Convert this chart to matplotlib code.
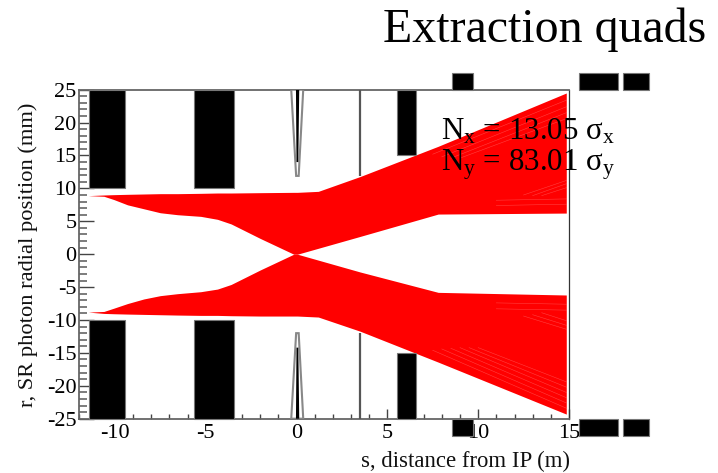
import matplotlib
matplotlib.use("Agg")
import matplotlib.pyplot as plt
from matplotlib.patches import Rectangle, Polygon
from matplotlib.ticker import MultipleLocator

plt.rcParams['font.family'] = ['Liberation Serif', 'DejaVu Serif']
plt.rcParams['mathtext.fontset'] = 'custom'
plt.rcParams['mathtext.rm'] = 'Liberation Serif'
plt.rcParams['mathtext.it'] = 'Liberation Serif'
plt.rcParams['mathtext.bf'] = 'Liberation Serif'
plt.rcParams['axes.unicode_minus'] = False

# Red photon fan envelopes (s in m, r in mm)
upper_s = [-11.46, -10.6, -10.05, -9.3, -8.4, -7.5, -6.55, -5.27, -4.35, -3.6, -2.0, -0.15, 0.05, 1.2, 3.5, 7.8, 14.85]
upper_hi = [8.9, 9.0, 9.05, 9.1, 9.15, 9.2, 9.2, 9.25, 9.3, 9.3, 9.35, 9.4, 9.4, 9.55, 11.8, 16.4, 24.5]
upper_lo = [8.9, 8.8, 8.3, 7.5, 6.9, 6.3, 6.0, 5.75, 5.3, 4.6, 2.4, 0.0, 0.0, 0.9, 2.7, 6.1, 6.25]
lower_s = upper_s
lower_hi = [-8.8, -8.7, -8.2, -7.5, -6.8, -6.3, -6.0, -5.7, -5.3, -4.6, -2.4, 0.0, 0.0, -0.9, -2.7, -5.8, -6.2]
lower_lo = [-8.8, -9.0, -9.05, -9.1, -9.15, -9.2, -9.25, -9.3, -9.3, -9.35, -9.4, -9.4, -9.4, -9.55, -11.7, -16.4, -24.3]

# Thin gaps between neighbouring rays, (s0, r0, s1, r1)
gaps = [
    (7.5, 15.2, 14.85, 23.4), (8.0, 14.8, 14.85, 22.4), (8.5, 14.6, 14.85, 21.5), (9.0, 14.6, 14.85, 20.6),
    (12.5, 9.0, 14.85, 11.2), (13.0, 8.9, 14.85, 10.7), (13.5, 8.9, 14.85, 10.1),
    (11.0, 7.4, 14.85, 7.6), (11.0, 8.2, 14.85, 8.4),
    (7.5, -14.6, 14.85, -23.4), (8.0, -14.4, 14.85, -22.6), (8.5, -14.3, 14.85, -21.8),
    (9.0, -14.2, 14.85, -21.0), (9.5, -14.2, 14.85, -20.2), (10.0, -14.2, 14.85, -19.4),
    (12.5, -9.4, 14.85, -11.4), (13.0, -9.2, 14.85, -10.8), (13.5, -8.9, 14.85, -10.1),
    (11.0, -7.4, 14.85, -7.6), (11.0, -8.3, 14.85, -8.5),
]

# Black apertures: (s start, s end, r start, r end)
magnets = [
    (-11.43, -9.45, 10, 25), (-5.66, -3.46, 10, 25), (5.55, 6.6, 15, 25),
    (-11.43, -9.45, -25, -10), (-5.66, -3.46, -25, -10), (5.55, 6.6, -25, -15),
    (8.57, 9.73, 25, 27.6), (15.55, 17.7, 25, 27.6), (17.97, 19.4, 25, 27.6),
    (8.57, 9.73, -27.6, -25), (15.55, 17.7, -27.6, -25), (17.97, 19.4, -27.6, -25),
]
septum_s = 3.5
septum_r = [(11.9, 25), (-25, -12)]
cone_s = [-0.29, -0.02, 0.12, 0.37]
cone_r_top = [25, 11.9, 11.9, 25]
cone_r_bottom = [-25, -12, -12, -25]
core_s = [-0.03, 0.0, 0.1, 0.15]
core_r_top = [25, 14.0, 14.0, 25]
core_r_bottom = [-25, -14.2, -14.2, -25]

xticks = [-10, -5, 0, 5, 10, 15]
yticks = [-25, -20, -15, -10, -5, 0, 5, 10, 15, 20, 25]

fig = plt.figure(figsize=(7.18, 4.73), dpi=100)
ax = fig.add_axes([78.5 / 718, 1 - 418.7 / 473, (569 - 78.5) / 718, (418.7 - 89.7) / 473])
ax.set_xlim(-12, 15)
ax.set_ylim(-25, 25)

ax.fill_between(upper_s, upper_lo, upper_hi, color='#ff0000', lw=0, zorder=2)
ax.fill_between(lower_s, lower_lo, lower_hi, color='#ff0000', lw=0, zorder=2)
for s0, r0, s1, r1 in gaps:
    ax.plot([s0, s1], [r0, r1], color='white', lw=0.4, alpha=0.25, zorder=2.1)

for s0, s1, r0, r1 in magnets:
    ax.add_patch(Rectangle((s0, r0), s1 - s0, r1 - r0, fc='black', ec='#777777', lw=0.8,
                           clip_on=False, zorder=5))
for r0, r1 in septum_r:
    ax.plot([septum_s, septum_s], [r0, r1], color='#555555', lw=1.6, zorder=3, solid_capstyle='butt')
for r_vals in (cone_r_top, cone_r_bottom):
    ax.add_patch(Polygon(list(zip(cone_s, r_vals)), closed=True, fc='white', ec='#888888', lw=1.5, zorder=3))
for r_vals in (core_r_top, core_r_bottom):
    ax.add_patch(Polygon(list(zip(core_s, r_vals)), closed=True, fc='black', lw=0, zorder=4))

ax.set_xticks(xticks)
ax.set_yticks(yticks)
ax.xaxis.set_minor_locator(MultipleLocator(1))
ax.yaxis.set_minor_locator(MultipleLocator(1))
ax.tick_params(axis='x', which='major', direction='in', length=7.5, width=1, color='#444444',
               labelsize=16, pad=3.5)
ax.tick_params(axis='x', which='minor', direction='in', length=3.8, width=1, color='#444444')
ax.tick_params(axis='y', which='major', direction='in', length=11, width=1, color='#444444',
               labelsize=16, pad=1.5)
ax.tick_params(axis='y', which='minor', direction='in', length=5.8, width=1.2, color='#666666')
for name, sp in ax.spines.items():
    sp.set_color('#666666' if name != 'right' else '#333333')
    sp.set_linewidth(1.3 if name != 'right' else 0.9)

fig.text(28 / 718, 1 - 255 / 473, 'r, SR photon radial position (mm)', rotation=90,
         ha='center', va='center', fontsize=16.2, color='#111111')
fig.text(465.5 / 718, 1 - 461 / 473, 's, distance from IP (m)', ha='center', va='center',
         fontsize=16.4, color='#111111')
fig.text(545 / 718, 1 - 30 / 473, 'Extraction quads', ha='center', va='center',
         fontsize=34.5, color='black')
fig.text(441 / 718, 1 - 139 / 473, r'N$_{\mathrm{x}}$ = 13.05 σ$_{\mathrm{x}}$', ha='left',
         va='baseline', fontsize=22.3, color='black', zorder=10)
fig.text(441 / 718, 1 - 171 / 473, r'N$_{\mathrm{y}}$ = 83.01 σ$_{\mathrm{y}}$', ha='left',
         va='baseline', fontsize=22.3, color='black', zorder=10)

fig.savefig('out.png', dpi=100)
